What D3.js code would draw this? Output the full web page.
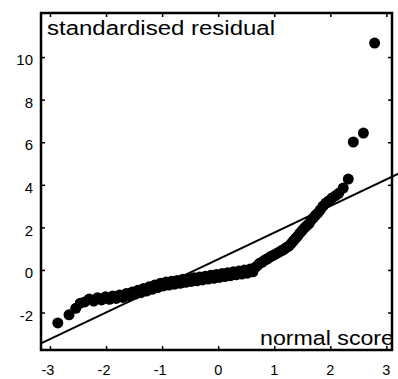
<!DOCTYPE html>
<html>
<head>
<meta charset="utf-8">
<script src="https://cdn.jsdelivr.net/npm/d3@7"></script>
<style>
  body { margin: 0; background: #fff; }
  svg { display: block; }
  text { font-family: "Liberation Sans", Arial, sans-serif; fill: #000; }
</style>
</head>
<body>
<div class="chart"></div>
<script>
(function(){

// normal scores (x) and standardised residuals (y)
var normalScore = [-2.86, -2.66, -2.54, -2.46, -2.38, -2.30, -2.22, -2.15, -2.08, -2.01,
  -1.94, -1.88, -1.82, -1.76, -1.70, -1.64, -1.58, -1.53, -1.48, -1.43,
  -1.38, -1.33, -1.28, -1.23, -1.18, -1.13, -1.08, -1.03, -0.98, -0.93,
  -0.88, -0.83, -0.78, -0.73, -0.68, -0.63, -0.58, -0.53, -0.48, -0.43,
  -0.38, -0.33, -0.28, -0.23, -0.18, -0.13, -0.08, -0.03, 0.02, 0.07,
  0.12, 0.17, 0.22, 0.27, 0.32, 0.37, 0.42, 0.47, 0.52, 0.57,
  0.62, 0.66, 0.70, 0.74, 0.78, 0.82, 0.86, 0.90, 0.94, 0.98,
  1.02, 1.06, 1.10, 1.14, 1.18, 1.22, 1.26, 1.30, 1.34, 1.38,
  1.42, 1.46, 1.50, 1.54, 1.58, 1.62, 1.66, 1.70, 1.74, 1.78,
  1.82, 1.87, 1.92, 1.97, 2.03, 2.09, 2.15, 2.23, 2.32, 2.41,
  2.59, 2.79];

var residual = [-2.49, -2.11, -1.80, -1.56, -1.50, -1.36, -1.46, -1.30, -1.41, -1.26,
  -1.38, -1.22, -1.34, -1.18, -1.29, -1.11, -1.22, -1.03, -1.14, -0.95,
  -1.07, -0.87, -0.99, -0.79, -0.91, -0.71, -0.83, -0.63, -0.75, -0.57,
  -0.71, -0.53, -0.67, -0.49, -0.63, -0.44, -0.58, -0.40, -0.54, -0.37,
  -0.51, -0.33, -0.47, -0.29, -0.43, -0.25, -0.39, -0.21, -0.35, -0.17,
  -0.31, -0.13, -0.27, -0.09, -0.23, -0.05, -0.19, 0.00, -0.15, 0.04,
  -0.09, 0.12, 0.20, 0.32, 0.36, 0.44, 0.50, 0.56, 0.64, 0.68,
  0.74, 0.80, 0.86, 0.92, 0.98, 1.06, 1.12, 1.24, 1.36, 1.48,
  1.60, 1.74, 1.86, 1.98, 2.08, 2.18, 2.34, 2.46, 2.58, 2.68,
  2.82, 3.00, 3.14, 3.24, 3.38, 3.48, 3.60, 3.85, 4.27, 6.01,
  6.43, 10.66];

// fitted reference line: residual = intercept + slope * score
var refIntercept = 0.5,
    refSlope = 1.25,
    refExtent = [-3.16, 3.22];

var xTicks = [-3, -2, -1, 0, 1, 2, 3];
var yTicks = [-2, 0, 2, 4, 6, 8, 10];

var yLabel = "standardised residual",
    xLabel = "normal score";

var width = 398,
    height = 379;

var svg = d3.select(".chart")
  .append("svg")
  .attr("width", width)
  .attr("height", height);

var x = d3.scaleLinear()
  .domain([-3.16, 3.1])
  .range([41, 392]);

var y = d3.scaleLinear()
  .domain([-3.76, 12.07])
  .range([350, 13]);

var points = normalScore.map(function(d, i){
  return {x: d, y: residual[i]};
});

// data points
svg.append("g")
  .selectAll("circle")
  .data(points)
  .enter()
  .append("circle")
  .attr("cx", function(d){ return x(d.x); })
  .attr("cy", function(d){ return y(d.y); })
  .attr("r", 5.5)
  .style("fill", "#000");

// reference line (runs a little past the right frame, as in the print)
svg.append("line")
  .attr("x1", x(refExtent[0]))
  .attr("y1", y(refIntercept + refSlope * refExtent[0]))
  .attr("x2", x(refExtent[1]))
  .attr("y2", y(refIntercept + refSlope * refExtent[1]))
  .style("stroke", "#000")
  .style("stroke-width", 2);

// frame with inward ticks on every side
var x0 = x.range()[0], x1 = x.range()[1],
    y0 = y.range()[0], y1 = y.range()[1];

var axisBottom = d3.axisBottom(x).tickValues(xTicks).tickSize(-4).tickFormat("");
var axisTop = d3.axisTop(x).tickValues(xTicks).tickSize(-4).tickFormat("");
var axisLeft = d3.axisLeft(y).tickValues(yTicks).tickSize(-4).tickFormat("");
var axisRight = d3.axisRight(y).tickValues(yTicks).tickSize(-4).tickFormat("");

svg.append("g").attr("transform", "translate(0," + y0 + ")").call(axisBottom);
svg.append("g").attr("transform", "translate(0," + y1 + ")").call(axisTop);
svg.append("g").attr("transform", "translate(" + x0 + ",0)").call(axisLeft);
svg.append("g").attr("transform", "translate(" + x1 + ",0)").call(axisRight);

svg.selectAll(".domain").remove();
svg.selectAll(".tick line").style("stroke", "#000").style("stroke-width", 1.5);

svg.append("rect")
  .attr("x", x0)
  .attr("y", y1)
  .attr("width", x1 - x0)
  .attr("height", y0 - y1)
  .style("fill", "none")
  .style("stroke", "#000")
  .style("stroke-width", 2.5);

// tick labels
svg.append("g")
  .selectAll("text")
  .data(yTicks)
  .enter()
  .append("text")
  .attr("x", 33)
  .attr("y", function(d){ return y(d) + 3; })
  .attr("dy", "0.35em")
  .attr("text-anchor", "end")
  .style("font-size", "15px")
  .text(function(d){ return d; });

svg.append("g")
  .selectAll("text")
  .data(xTicks)
  .enter()
  .append("text")
  .attr("x", function(d){ return x(d) + (d < 0 ? -2 : 0); })
  .attr("y", 375)
  .attr("text-anchor", "middle")
  .style("font-size", "14.5px")
  .text(function(d){ return d; });

// axis titles sit inside the frame
svg.append("text")
  .attr("x", 47)
  .attr("y", 35)
  .attr("textLength", 228)
  .attr("lengthAdjust", "spacingAndGlyphs")
  .style("font-size", "20px")
  .text(yLabel);

svg.append("text")
  .attr("x", 260)
  .attr("y", 345)
  .attr("textLength", 134)
  .attr("lengthAdjust", "spacingAndGlyphs")
  .style("font-size", "20px")
  .text(xLabel);

})();
</script>
</body>
</html>
